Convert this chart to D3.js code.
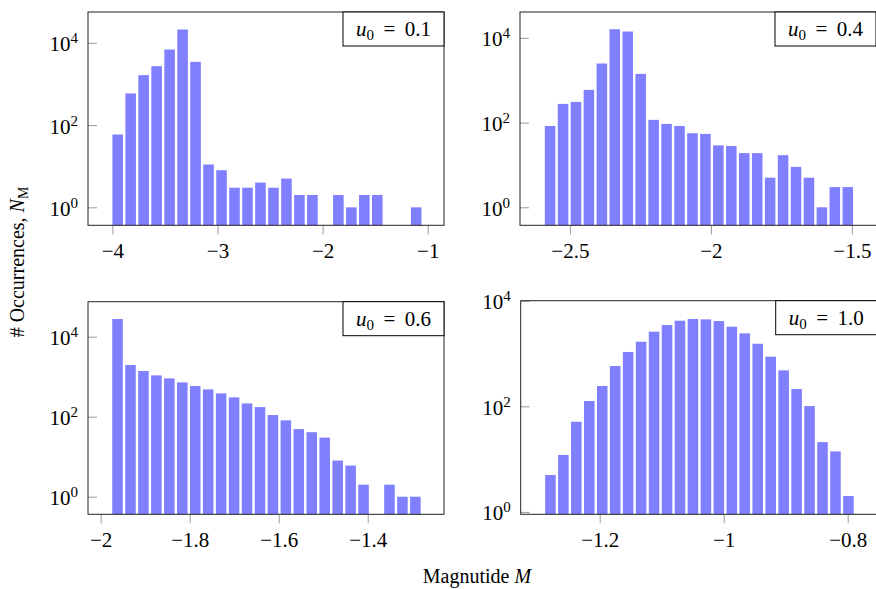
<!DOCTYPE html>
<meta charset="utf-8">
<style>
body { margin: 0; background: #fff; }
text { font-family: "Liberation Serif", "Times New Roman", serif; fill: #000; }
.frame { fill: none; stroke: #222; stroke-width: 1px; }
.tick line { stroke: #999; stroke-width: 1px; }
.bar { fill: #8080ff; }
</style>
<body>
<script src="https://d3js.org/d3.v7.min.js"></script>
<script>

// histogram counts per panel (24 bins each, 0 = empty bin)
var counts01 = [59, 588, 1640, 2710, 6890, 21100, 3450, 11, 8, 3, 3, 4, 3, 5, 2, 2, 0, 2, 1, 2, 2, 0, 0, 1];
var counts04 = [83, 276, 308, 591, 2480, 16000, 14100, 1410, 116, 93, 83, 56, 54, 29, 28, 19, 19, 5, 17, 9, 5, 1, 3, 3];
var counts06 = [27700, 1960, 1390, 1080, 908, 721, 584, 482, 383, 304, 215, 174, 110, 81, 49, 41, 30, 8, 6, 2, 0, 2, 1, 1];
var counts10 = [5, 12, 51, 126, 243, 580, 1070, 1670, 2590, 3460, 4180, 4500, 4430, 4120, 3220, 2410, 1530, 871, 480, 213, 101, 21, 14, 2];

var u0Labels = ["0.1", "0.4", "0.6", "1.0"];
var binStart = [-4.0, -2.589, -1.974, -1.288];
var binWidth = [0.1235, 0.0459, 0.0291, 0.0209];
var xTicks = [[-4, -3, -2, -1], [-2.5, -2, -1.5], [-2, -1.8, -1.6, -1.4], [-1.2, -1, -0.8]];
var xDomains = [[-4.232, -0.845], [-2.677, -1.411], [-2.0285, -1.2285], [-1.3274, -0.7527]];
var yExpDomains = [[-0.437, 4.75], [-0.425, 4.61], [-0.44, 4.875], [-0.045, 4.0]];
var yTickExp = [0, 2, 4];

var allCounts = [counts01, counts04, counts06, counts10];

// panel boxes in pixels
var boxes = [
  {left: 88, top: 12, right: 444, bottom: 225.3},
  {left: 520, top: 12, right: 877, bottom: 225.3},
  {left: 88, top: 301.7, right: 444, bottom: 514.3},
  {left: 520.7, top: 300.7, right: 877, bottom: 514.3}
];

var svg = d3.select("body").append("svg")
    .attr("width", 876)
    .attr("height", 589);

var fmt = function(d) { return String(d).replace("-", "\u2212"); };

boxes.forEach(function(b, i) {
  var w = b.right - b.left, h = b.bottom - b.top;
  var g = svg.append("g").attr("transform", "translate(" + b.left + "," + b.top + ")");

  var x = d3.scaleLinear().domain(xDomains[i]).range([0, w]);
  var y = d3.scaleLog()
      .domain([Math.pow(10, yExpDomains[i][0]), Math.pow(10, yExpDomains[i][1])])
      .range([h, 0]);

  var data = allCounts[i].map(function(c, k) {
    return {x0: binStart[i] + k * binWidth[i], x1: binStart[i] + (k + 1) * binWidth[i], n: c};
  }).filter(function(d) { return d.n > 0; });

  g.selectAll(".bar")
      .data(data)
    .enter().append("rect")
      .attr("class", "bar")
      .attr("x", function(d) { return x(d.x0); })
      .attr("width", function(d) { return x(d.x1) - x(d.x0) - 2.4; })
      .attr("y", function(d) { return y(d.n); })
      .attr("height", function(d) { return h - y(d.n); });

  // x axis (ticks outward)
  var xa = g.append("g")
      .attr("transform", "translate(0," + h + ")")
      .call(d3.axisBottom(x).tickValues(xTicks[i]).tickSize(9).tickPadding(9).tickFormat(fmt));
  xa.select(".domain").remove();
  xa.selectAll("text").style("font-size", "21px");

  // y axis (ticks inward)
  var ya = g.append("g")
      .call(d3.axisLeft(y).tickValues(yTickExp.map(function(e) { return Math.pow(10, e); }))
            .tickSize(-9).tickPadding(10).tickFormat(""));
  ya.select(".domain").remove();
  ya.selectAll(".tick text")
      .attr("dy", null)
      .attr("y", 8)
      .style("font-size", "21px")
      .each(function(d) {
        var t = d3.select(this);
        t.append("tspan").text("10");
        t.append("tspan").attr("dy", -8).style("font-size", "15px").text(Math.round(Math.log10(d)));
      });

  g.append("rect").attr("class", "frame").attr("width", w).attr("height", h);

  // legend box
  var lg = g.append("g").attr("transform", "translate(" + (356 - 101) + ",0)");
  lg.append("rect")
      .attr("width", 101).attr("height", 34)
      .attr("fill", "#fff").attr("stroke", "#000").attr("stroke-width", 1);
  var lt = lg.append("text")
      .attr("x", 50.5).attr("y", 24)
      .attr("text-anchor", "middle")
      .style("font-size", "21px");
  lt.append("tspan").style("font-style", "italic").text("u");
  lt.append("tspan").attr("dy", 4).style("font-size", "15px").text("0");
  lt.append("tspan").attr("dy", -4).text("\u2009 = \u2009" + u0Labels[i]);
});

// axis labels
svg.append("text")
    .attr("transform", "translate(24,262) rotate(-90)")
    .attr("text-anchor", "middle")
    .style("font-size", "20px")
    .call(function(t) {
      t.append("tspan").text("# Occurrences, ");
      t.append("tspan").style("font-style", "italic").text("N");
      t.append("tspan").attr("dy", 4).style("font-size", "14px").text("M");
    });

svg.append("text")
    .attr("x", 477).attr("y", 583)
    .attr("text-anchor", "middle")
    .style("font-size", "20px")
    .call(function(t) {
      t.append("tspan").text("Magnutide ");
      t.append("tspan").style("font-style", "italic").text("M");
    });

</script>
</body>
